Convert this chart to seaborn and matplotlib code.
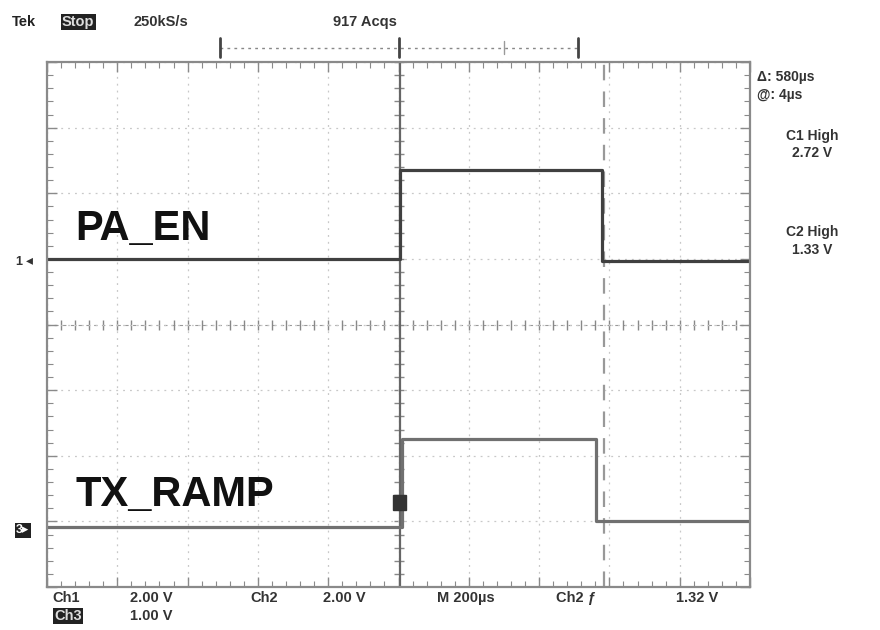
import numpy as np
import pandas as pd
import matplotlib
matplotlib.use("Agg")
import matplotlib.pyplot as plt
from matplotlib.patches import Rectangle
import seaborn as sns

# ---- data (time in µs, levels in volts) ----
pa_en_t = [-1000, 4, 4, 578, 578, 1000]
pa_en_v = [0.0, 0.0, 2.72, 2.72, -0.05, -0.05]
tx_ramp_t = [-1000, 9, 9, 563, 563, 1000]
tx_ramp_v = [0.0, 0.0, 1.33, 1.33, 0.09, 0.09]
cursor_t = [4, 584]

# channel setup (volts/div, ground offset in div)
ch1_scale, ch1_offset = 2.0, 1.0
ch3_scale, ch3_offset = 1.0, -3.08

sns.set_theme(style="white")
plt.rcParams['font.family'] = ['Liberation Sans', 'DejaVu Sans']

fig = plt.figure(figsize=(8.8, 6.3), dpi=100)
ax = fig.add_axes([47/880, 1-587/630, (750-47)/880, (587-62)/630])

df1 = pd.DataFrame({"t": pa_en_t, "div": np.array(pa_en_v)/ch1_scale + ch1_offset})
df3 = pd.DataFrame({"t": tx_ramp_t, "div": np.array(tx_ramp_v)/ch3_scale + ch3_offset})
sns.lineplot(data=df1, x="t", y="div", ax=ax, color="#404040", lw=2.3, sort=False, estimator=None)
sns.lineplot(data=df3, x="t", y="div", ax=ax, color="#707070", lw=2.3, sort=False, estimator=None)

# cursors
ax.axvline(cursor_t[0], color="#666666", lw=1.6, zorder=1)
ax.axvline(cursor_t[1], color="#999999", lw=1.6, dashes=(7, 5), zorder=1)

ax.set_xlim(-1000, 1000)
ax.set_ylim(-4, 4)
ax.set_xticks(np.arange(-1000, 1001, 200))
ax.set_yticks(np.arange(-4, 5, 1))
ax.set_xticks(np.arange(-1000, 1001, 40), minor=True)
ax.set_yticks(np.arange(-4, 4.01, 0.2), minor=True)
ax.set_xticklabels([]); ax.set_yticklabels([])
ax.set_xlabel(""); ax.set_ylabel("")
ax.grid(True, which="major", color="#c8c8c8", lw=0.9, linestyle=(0, (1.5, 4)))
ax.tick_params(which="both", direction="in", top=True, right=True, bottom=True, left=True,
               color="#8a8a8a")
ax.tick_params(which="major", length=7, width=1)
ax.tick_params(which="minor", length=4, width=0.8)
for s in ax.spines.values():
    s.set_color("#8a8a8a"); s.set_linewidth(1.6)

# center crosshair with small ticks
mt = np.arange(-1000, 1001, 40)
ax.plot(mt, np.zeros_like(mt), ls=(0, (3, 4)), color="#999999", lw=0.8,
        marker="|", ms=7, mec="#888888", zorder=0.5)
my = np.arange(-4, 4.01, 0.2)
ax.plot(np.zeros_like(my), my, ls="none", marker="_", ms=7, mec="#888888", zorder=0.5)

# signal labels
ax.text(-920, 1.45, "PA_EN", fontsize=30, fontweight="bold", color="#111111", va="center")
ax.text(-920, -2.60, "TX_RAMP", fontsize=30, fontweight="bold", color="#111111", va="center")

# channel markers at left
fig.text(15/880, 1-262/630, "1", fontsize=9, fontweight="bold", color="#333", va="center")
fig.text(26/880, 1-260/630, "◂", fontsize=10, color="#333", va="center")
fig.text(16/880, 1-530/630, "3▸", fontsize=9, fontweight="bold", color="white", va="center",
         bbox=dict(boxstyle="square,pad=0.12", fc="#222", ec="none"))
ax.add_patch(Rectangle((-15, -2.82), 35, 0.22, color="#333333", zorder=5))

# top record bar
ax.plot([0.246, 0.755], [1.027, 1.027], transform=ax.transAxes, clip_on=False,
        color="#888888", lw=1, ls=(0, (2, 3)))
for xb in [0.246, 0.5, 0.755]:
    ax.plot([xb, xb], [1.010, 1.045], transform=ax.transAxes, clip_on=False, color="#444", lw=2)
ax.plot([0.65, 0.65], [1.015, 1.04], transform=ax.transAxes, clip_on=False, color="#999", lw=1)

# header
fs = 10.5
fig.text(12/880, 1-22/630, "Tek", fontsize=fs, fontweight="bold", va="center", color="#222")
fig.text(62/880, 1-22/630, "Stop", fontsize=fs, fontweight="bold", va="center", color="#ddd",
         bbox=dict(boxstyle="square,pad=0.1", fc="#222", ec="none"))
fig.text(133/880, 1-22/630, "250kS/s", fontsize=fs, fontweight="bold", va="center", color="#333")
fig.text(333/880, 1-22/630, "917 Acqs", fontsize=fs, fontweight="bold", va="center", color="#333")

# right panel
fr = 10
fig.text(757/880, 1-77/630, "Δ: 580µs", fontsize=fr, fontweight="bold", va="center", color="#333")
fig.text(757/880, 1-95/630, "@: 4µs", fontsize=fr, fontweight="bold", va="center", color="#333")
fig.text(812/880, 1-136/630, "C1 High", fontsize=fr, fontweight="bold", va="center", ha="center", color="#333")
fig.text(812/880, 1-153/630, "2.72 V", fontsize=fr, fontweight="bold", va="center", ha="center", color="#333")
fig.text(812/880, 1-232/630, "C2 High", fontsize=fr, fontweight="bold", va="center", ha="center", color="#333")
fig.text(812/880, 1-250/630, "1.33 V", fontsize=fr, fontweight="bold", va="center", ha="center", color="#333")

# bottom status
fb = 10.5
y1, y2 = 1-598/630, 1-616/630
for xx, s in [(52, "Ch1"), (130, "2.00 V"), (250, "Ch2"), (323, "2.00 V"),
              (437, "M 200µs"), (556, "Ch2 ƒ"), (676, "1.32 V")]:
    fig.text(xx/880, y1, s, fontsize=fb, fontweight="bold", va="center", color="#333")
fig.text(54/880, y2, "Ch3", fontsize=fb, fontweight="bold", va="center", color="#ddd",
         bbox=dict(boxstyle="square,pad=0.1", fc="#222", ec="none"))
fig.text(130/880, y2, "1.00 V", fontsize=fb, fontweight="bold", va="center", color="#333")

fig.savefig("out.png", dpi=100, facecolor="white")
